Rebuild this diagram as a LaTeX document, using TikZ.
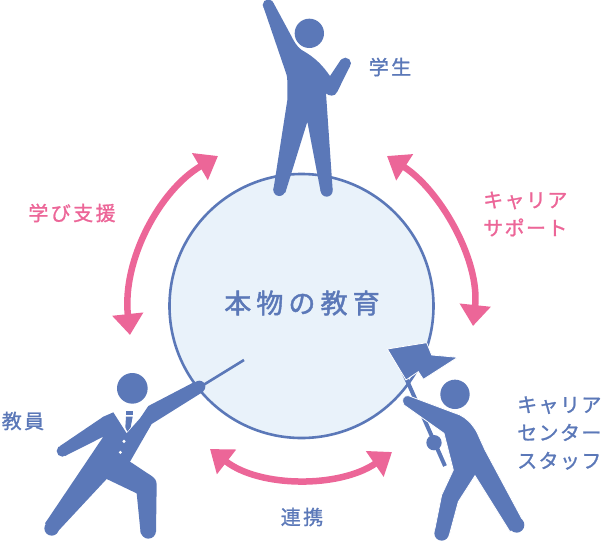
\documentclass[tikz,border=0pt]{standalone}
\usepackage{fontspec}
\newfontfamily\cjklabel[LetterSpace=12,FakeBold=1.2]{Noto Sans CJK JP}
\newfontfamily\cjkkana[LetterSpace=7,FakeBold=1.2]{Noto Sans CJK JP}
\newfontfamily\cjkcore[LetterSpace=19,FakeBold=1.6]{Noto Sans CJK JP}
\usetikzlibrary{arrows.meta}
\definecolor{personblue}{HTML}{5B78B8}
\definecolor{linkpink}{HTML}{EC6698}
\definecolor{corefill}{HTML}{E9F2FA}
\tikzset{
  figure/.style={fill=personblue},
  linkarrow/.style={draw=linkpink,line width=6.5pt,{Triangle[length=21pt,width=30pt]}-{Triangle[length=21pt,width=30pt]}},
  bluelabel/.style={text=personblue,inner sep=0pt,align=left,font={\cjklabel\fontsize{20}{28}\selectfont}},
  pinklabel/.style={bluelabel,text=linkpink},
  kanalabel/.style={font={\cjkkana\fontsize{20}{28}\selectfont}},
}
\begin{document}
\begin{tikzpicture}[x=1pt,y=-1pt]
    \useasboundingbox (0,0) rectangle (603,542);
    % core circle
    \draw[personblue,fill=corefill,line width=2.6pt] (301.5,306) circle (132);
    \node[bluelabel,font={\cjkcore\fontsize{27}{30}\selectfont}] (core) at (302,303) {本物の教育};

    % arrows
    \draw[linkarrow] (218,156) .. controls (160,190) and (122,260) .. (130,335);
    \draw[linkarrow] (387,156) .. controls (440,190) and (480,260) .. (473,326);
    \draw[linkarrow] (210,449) .. controls (260,488) and (340,488) .. (392,452);

    % student
    \begin{scope}[shift={(230,0)},scale=1/3]
        \fill[figure] (238,100) circle (44);
        \fill[figure] (100,20) -- (170,225) .. controls (174,245) and (172,280) .. (172,300)
            -- (130,570) -- (166,578) -- (232,365) -- (272,575) -- (308,570) -- (288,280)
            .. controls (296,288) and (315,292) .. (322,275) -- (360,198) -- (332,180) -- (300,228)
            .. controls (280,200) and (260,175) .. (215,150) .. controls (200,140) and (190,120) .. (185,110) -- (130,8) -- cycle;
        \fill[figure] (115,15) circle (17) (148,570) circle (18) (290,572) circle (18) (346,190) circle (17);
    \end{scope}

    % teacher
    \begin{scope}[shift={(40,350)},scale=1/3]
        \draw[personblue,line width=2.6pt] (490,105) -- (612,30);
        \fill[figure] (277,115) circle (46);
        \fill[figure] (60,288) -- (190,200) -- (220,187) -- (260,250) -- (300,205) -- (325,168) -- (465,95)
            -- (490,125) -- (335,222) -- (270,335) -- (335,378) .. controls (345,385) and (350,392) .. (350,405)
            -- (348,545) -- (302,550) -- (290,430) -- (200,387) -- (50,548) -- (15,520) -- (190,260) -- (75,318) -- cycle;
        \fill[figure] (67,303) circle (17) (478,110) circle (18) (325,543) circle (23) (35,535) circle (22);
        \fill[figure] (258,184) rectangle (278,195);
        \fill[figure] (258,200) -- (278,200) -- (272,232) -- (262,245) -- (256,232) -- cycle;
        \fill[white] (252,274) circle (5) (241,307) circle (5);
    \end{scope}

    % staff
    \begin{scope}[shift={(370,330)},scale=1/3]
        \draw[personblue,line width=4pt] (95,115) -- (225,408);
        \fill[figure,draw=white,line width=.8pt] (52,57) -- (170,38) -- (185,75) -- (263,82) -- (160,148) -- (145,125) -- (108,150) -- cycle;
        \fill[figure] (255,193) circle (44);
        \fill[figure,draw=white,line width=.8pt] (115,197) -- (270,255) .. controls (290,265) and (305,280) .. (320,305) -- (345,360) -- (463,580)
            -- (420,605) -- (315,437) -- (265,515) -- (238,615) -- (193,605) -- (215,495) -- (250,420) -- (222,310) -- (102,225)
            .. controls (92,210) and (100,195) .. (115,197) -- cycle;
        \fill[figure] (440,585) circle (23) (215,610) circle (22);
        \fill[figure] (192,338) circle (23);
    \end{scope}

    % labels
    \node[bluelabel] (student) at (390,67) {学生};
    \node[pinklabel] (support) at (72,213) {学び支援};
    \node[pinklabel,kanalabel,anchor=west] (career) at (483,214) {キャリア\\サポート};
    \node[bluelabel] (teacher) at (23,421) {教員};
    \node[bluelabel,kanalabel,anchor=west] (center) at (517,433) {キャリア\\センター\\スタッフ};
    \node[bluelabel] (link) at (302,517) {連携};
\end{tikzpicture}
\end{document}
